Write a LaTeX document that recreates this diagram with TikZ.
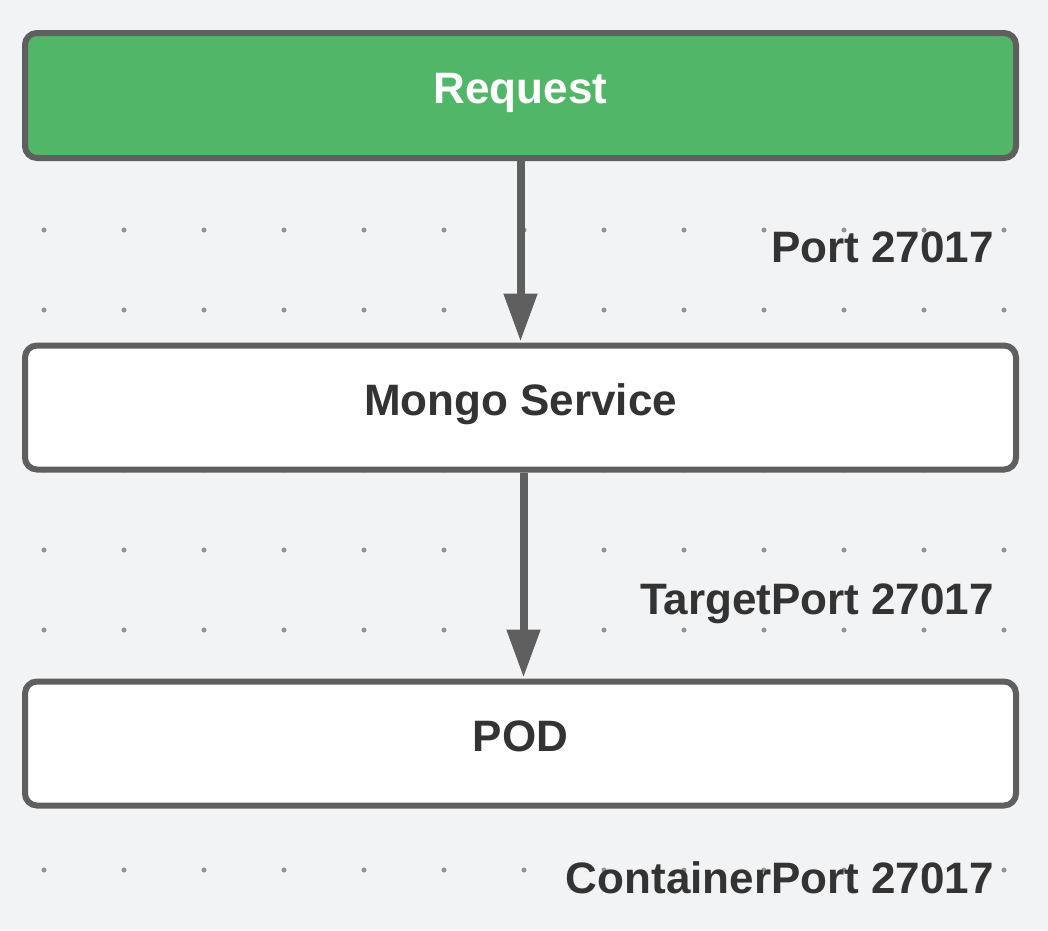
\documentclass[tikz,border=0pt]{standalone}
\usepackage{fontspec}
\setmainfont{Liberation Sans}
\usetikzlibrary{arrows.meta}
\definecolor{bgcol}{HTML}{F2F3F5}
\definecolor{dotcol}{HTML}{8E929B}
\definecolor{edgecol}{HTML}{5F5F5F}
\definecolor{reqgreen}{HTML}{52B669}
\definecolor{textcol}{HTML}{333333}
\begin{document}
\begin{tikzpicture}[x=1pt,y=-1pt,
    box/.style={draw=edgecol, line width=6pt, rounded corners=12pt,
        minimum width=991pt, minimum height=124pt, fill=white,
        text height=25pt, text depth=10pt,
        text=textcol, font=\fontsize{44}{48}\selectfont\bfseries},
    portlabel/.style={anchor=base east, inner sep=0pt, text=textcol,
        font=\fontsize{44}{48}\selectfont\bfseries},
    flow/.style={edgecol, line width=8pt, shorten >=1pt,
        -{Triangle[length=48pt,width=32pt]}}]

    % Background and dot grid
    \useasboundingbox (0,0) rectangle (1048,930);
    \fill[bgcol] (0,0) rectangle (1048,930);
    \foreach \x in {0,...,12} {
        \foreach \y in {0,...,10} {
            \fill[dotcol] (44+80*\x,70+80*\y) circle (2.5pt);
        }
    }

    % The three boxes
    \node[box, fill=reqgreen, text=white, minimum height=125pt] (req) at (520.5,95.5) {Request};
    \node[box] (svc) at (520.5,407.5) {Mongo Service};
    \node[box] (pod) at (520.5,743.5) {POD};

    % Arrows between them
    \draw[flow] (req.south) -- (svc.north);
    \draw[flow] ([xshift=3pt]svc.south) -- ([xshift=3pt]pod.north);

    % Port labels
    \node[portlabel] (port) at (994,262) {Port 27017};
    \node[portlabel] (target) at (994,614) {TargetPort 27017};
    \node[portlabel] (container) at (994,893) {ContainerPort 27017};
\end{tikzpicture}
\end{document}
